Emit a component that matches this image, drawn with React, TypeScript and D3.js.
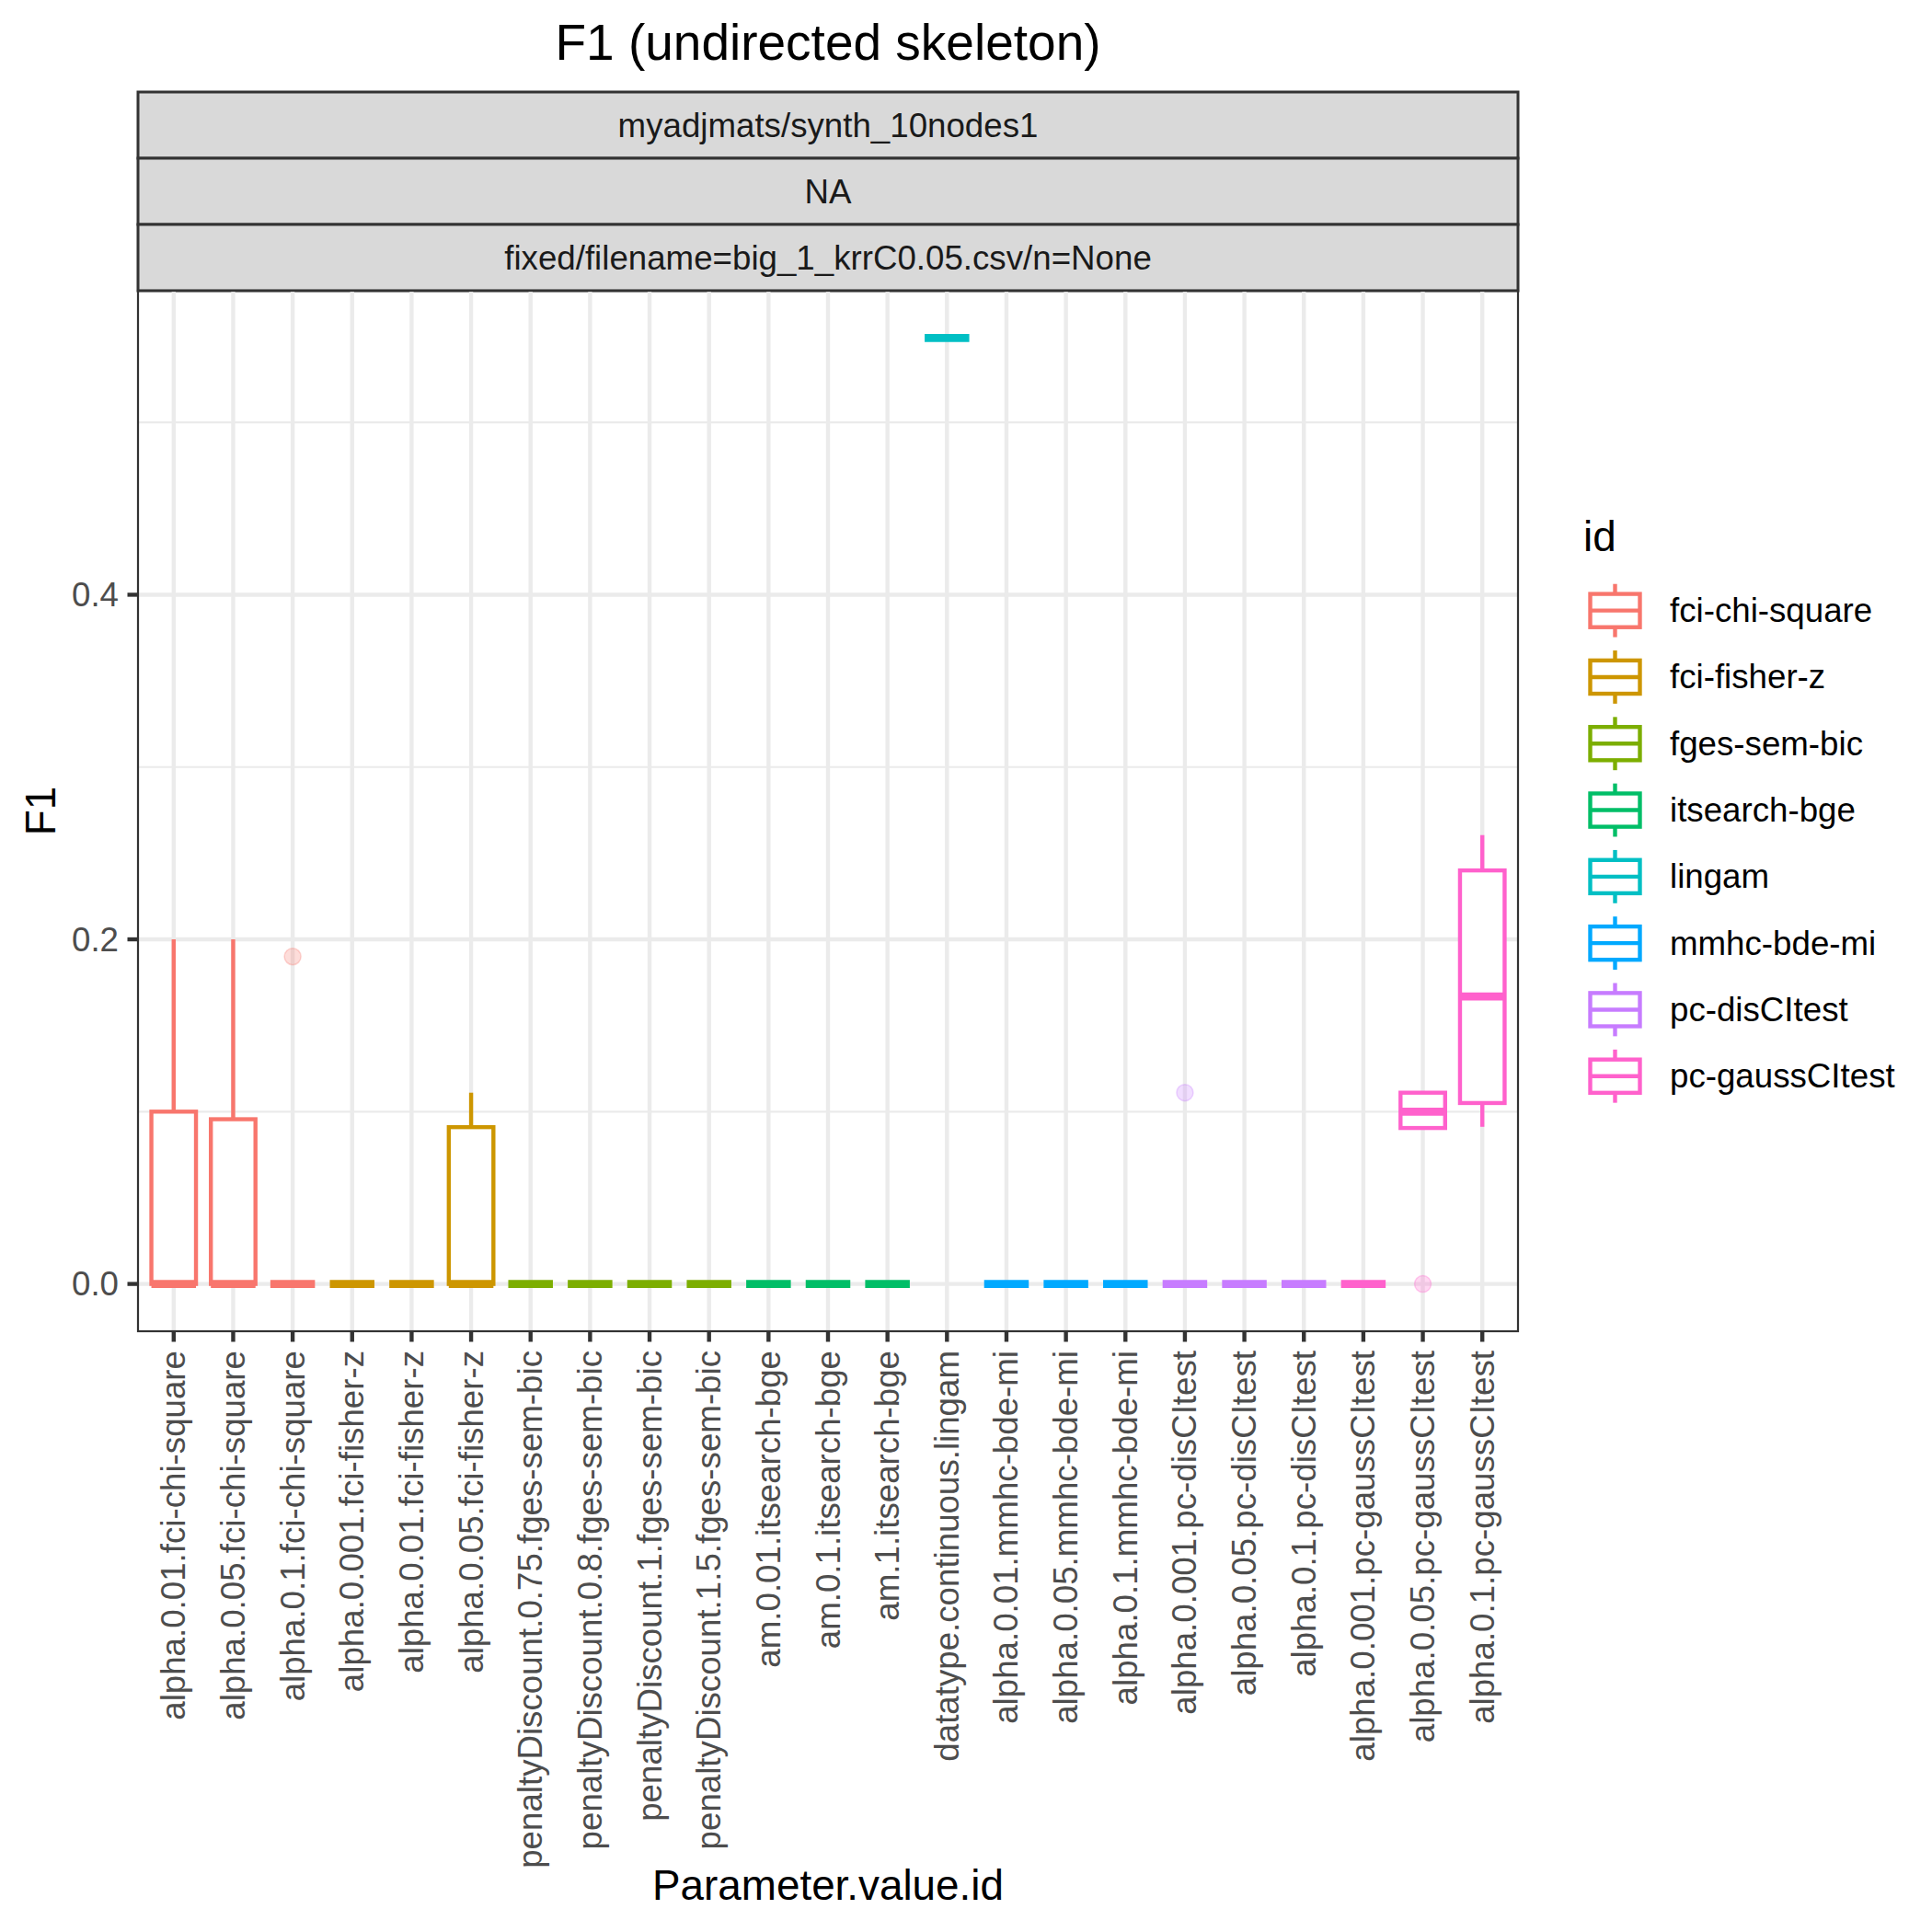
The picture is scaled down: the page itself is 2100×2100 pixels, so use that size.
import * as d3 from "d3";

// categories on the x axis (Parameter.value.id)
const categories = [
  "alpha.0.01.fci-chi-square",
  "alpha.0.05.fci-chi-square",
  "alpha.0.1.fci-chi-square",
  "alpha.0.001.fci-fisher-z",
  "alpha.0.01.fci-fisher-z",
  "alpha.0.05.fci-fisher-z",
  "penaltyDiscount.0.75.fges-sem-bic",
  "penaltyDiscount.0.8.fges-sem-bic",
  "penaltyDiscount.1.fges-sem-bic",
  "penaltyDiscount.1.5.fges-sem-bic",
  "am.0.01.itsearch-bge",
  "am.0.1.itsearch-bge",
  "am.1.itsearch-bge",
  "datatype.continuous.lingam",
  "alpha.0.01.mmhc-bde-mi",
  "alpha.0.05.mmhc-bde-mi",
  "alpha.0.1.mmhc-bde-mi",
  "alpha.0.001.pc-disCItest",
  "alpha.0.05.pc-disCItest",
  "alpha.0.1.pc-disCItest",
  "alpha.0.001.pc-gaussCItest",
  "alpha.0.05.pc-gaussCItest",
  "alpha.0.1.pc-gaussCItest",
];

const ids = [
  "fci-chi-square",
  "fci-fisher-z",
  "fges-sem-bic",
  "itsearch-bge",
  "lingam",
  "mmhc-bde-mi",
  "pc-disCItest",
  "pc-gaussCItest",
];

// id of each category
const catId = [0, 0, 0, 1, 1, 1, 2, 2, 2, 2, 3, 3, 3, 4, 5, 5, 5, 6, 6, 6, 7, 7, 7];

// box statistics
const q1 = [0, 0, 0, 0, 0, 0, 0, 0, 0, 0, 0, 0, 0, 0.549, 0, 0, 0, 0, 0, 0, 0, 0.0905, 0.105];
const med = [0, 0, 0, 0, 0, 0, 0, 0, 0, 0, 0, 0, 0, 0.549, 0, 0, 0, 0, 0, 0, 0, 0.1, 0.1668];
const q3 = [0.1, 0.0956, 0, 0, 0, 0.091, 0, 0, 0, 0, 0, 0, 0, 0.549, 0, 0, 0, 0, 0, 0, 0, 0.111, 0.24];
const whiskLo = [0, 0, 0, 0, 0, 0, 0, 0, 0, 0, 0, 0, 0, 0.549, 0, 0, 0, 0, 0, 0, 0, 0.0905, 0.0912];
const whiskHi = [0.2, 0.2, 0, 0, 0, 0.111, 0, 0, 0, 0, 0, 0, 0, 0.549, 0, 0, 0, 0, 0, 0, 0, 0.111, 0.2605];
const outliers: number[][] = [
  [], [], [0.19], [], [], [], [], [], [], [], [], [], [], [], [], [], [], [0.111], [], [], [], [0], [],
];

const yTicks = [0, 0.2, 0.4];
const yMinor = [0.1, 0.3, 0.5];
const stripLabels = ["myadjmats/synth_10nodes1", "NA", "fixed/filename=big_1_krrC0.05.csv/n=None"];

const FONT = "'Liberation Sans', Arial, Helvetica, sans-serif";
const LW = 4.4;

export default function App() {
  const W = 2100, H = 2100;
  const panel = { left: 150, right: 1650, top: 316, bottom: 1447 };

  const color = d3.scaleOrdinal<number, string>()
    .domain(d3.range(ids.length))
    .range(["#F8766D", "#CD9600", "#7CAE00", "#00BE67", "#00BFC4", "#00A9FF", "#C77CFF", "#FF61CC"]);

  const x = d3.scalePoint<string>()
    .domain(categories)
    .range([panel.left, panel.right])
    .padding(0.6);
  const bw = x.step() * 0.75;

  const y = d3.scaleLinear()
    .domain([-0.02745, 0.57645])
    .range([panel.bottom, panel.top]);

  const stripTop = 100;
  const stripH = 72;

  const keyTop = 627.5;
  const keyH = 72.3;
  const keyCx = 1755.5;

  return (
    <svg width={W} height={H} style={{ position: "absolute", left: 0, top: 0, background: "#fff" }} fontFamily={FONT}>
      <rect x={0} y={0} width={W} height={H} fill="#fff" />

      {/* title */}
      <text x={(panel.left + panel.right) / 2} y={65} fontSize={55} textAnchor="middle" fill="#000">
        F1 (undirected skeleton)
      </text>

      {/* strips */}
      {stripLabels.map((s, i) => (
        <g key={s}>
          <rect x={panel.left} y={stripTop + i * stripH} width={panel.right - panel.left} height={stripH}
            fill="#D9D9D9" stroke="#333333" strokeWidth={3} />
          <text x={(panel.left + panel.right) / 2} y={stripTop + i * stripH + stripH / 2}
            dominantBaseline="central" textAnchor="middle" fontSize={36.7} fill="#1A1A1A">{s}</text>
        </g>
      ))}

      {/* panel grid */}
      <g>
        {yMinor.map(v => (
          <line key={"mn" + v} x1={panel.left} x2={panel.right} y1={y(v)} y2={y(v)} stroke="#EBEBEB" strokeWidth={LW / 2} />
        ))}
        {yTicks.map(v => (
          <line key={"mj" + v} x1={panel.left} x2={panel.right} y1={y(v)} y2={y(v)} stroke="#EBEBEB" strokeWidth={LW} />
        ))}
        {categories.map(c => (
          <line key={"vx" + c} x1={x(c)} x2={x(c)} y1={panel.top} y2={panel.bottom} stroke="#EBEBEB" strokeWidth={LW} />
        ))}
      </g>

      {/* boxplots */}
      {categories.map((c, i) => {
        const cx = x(c)!;
        const col = color(catId[i]);
        return (
          <g key={"bx" + c}>
            <line x1={cx} x2={cx} y1={y(q3[i])} y2={y(whiskHi[i])} stroke={col} strokeWidth={LW} />
            <line x1={cx} x2={cx} y1={y(q1[i])} y2={y(whiskLo[i])} stroke={col} strokeWidth={LW} />
            <rect x={cx - bw / 2} y={y(q3[i])} width={bw} height={y(q1[i]) - y(q3[i])}
              fill="#fff" stroke={col} strokeWidth={LW} />
            <line x1={cx - bw / 2} x2={cx + bw / 2} y1={y(med[i])} y2={y(med[i])} stroke={col} strokeWidth={LW * 2} />
            {outliers[i].map((o, j) => (
              <circle key={j} cx={cx} cy={y(o)} r={9} fill={col} fillOpacity={0.25}
                stroke={col} strokeOpacity={0.3} strokeWidth={1.5} />
            ))}
          </g>
        );
      })}

      {/* panel border */}
      <rect x={panel.left} y={panel.top} width={panel.right - panel.left} height={panel.bottom - panel.top}
        fill="none" stroke="#333333" strokeWidth={2.2} />

      {/* y axis */}
      {yTicks.map(v => (
        <g key={"yt" + v}>
          <line x1={panel.left - 11.5} x2={panel.left} y1={y(v)} y2={y(v)} stroke="#333333" strokeWidth={LW} />
          <text x={129} y={y(v)} dominantBaseline="central" textAnchor="end" fontSize={36.7} fill="#4D4D4D">
            {d3.format(".1f")(v)}
          </text>
        </g>
      ))}
      <text transform={`translate(60,${(panel.top + panel.bottom) / 2}) rotate(-90)`} textAnchor="middle"
        fontSize={45.8} fill="#000">F1</text>

      {/* x axis */}
      {categories.map(c => (
        <g key={"xt" + c}>
          <line x1={x(c)} x2={x(c)} y1={panel.bottom} y2={panel.bottom + 11.5} stroke="#333333" strokeWidth={LW} />
          <text transform={`translate(${x(c)},${panel.bottom + 21}) rotate(-90)`} textAnchor="end"
            dominantBaseline="central" fontSize={36.7} fill="#4D4D4D">{c}</text>
        </g>
      ))}
      <text x={(panel.left + panel.right) / 2} y={2065} textAnchor="middle" fontSize={45.8} fill="#000">
        Parameter.value.id
      </text>

      {/* legend */}
      <text x={1721} y={599} fontSize={45.8} fill="#000">id</text>
      {ids.map((name, i) => {
        const t = keyTop + i * keyH;
        const cy = t + keyH / 2;
        const col = color(i);
        return (
          <g key={"lg" + name}>
            <line x1={keyCx} x2={keyCx} y1={t + keyH * 0.1} y2={t + keyH * 0.25} stroke={col} strokeWidth={LW} />
            <line x1={keyCx} x2={keyCx} y1={t + keyH * 0.75} y2={t + keyH * 0.9} stroke={col} strokeWidth={LW} />
            <rect x={keyCx - 27} y={t + keyH * 0.25} width={54} height={keyH * 0.5} fill="#fff" stroke={col} strokeWidth={LW} />
            <line x1={keyCx - 27} x2={keyCx + 27} y1={cy} y2={cy} stroke={col} strokeWidth={LW} />
            <text x={1815} y={cy} dominantBaseline="central" fontSize={36.7} fill="#000">{name}</text>
          </g>
        );
      })}
    </svg>
  );
}
